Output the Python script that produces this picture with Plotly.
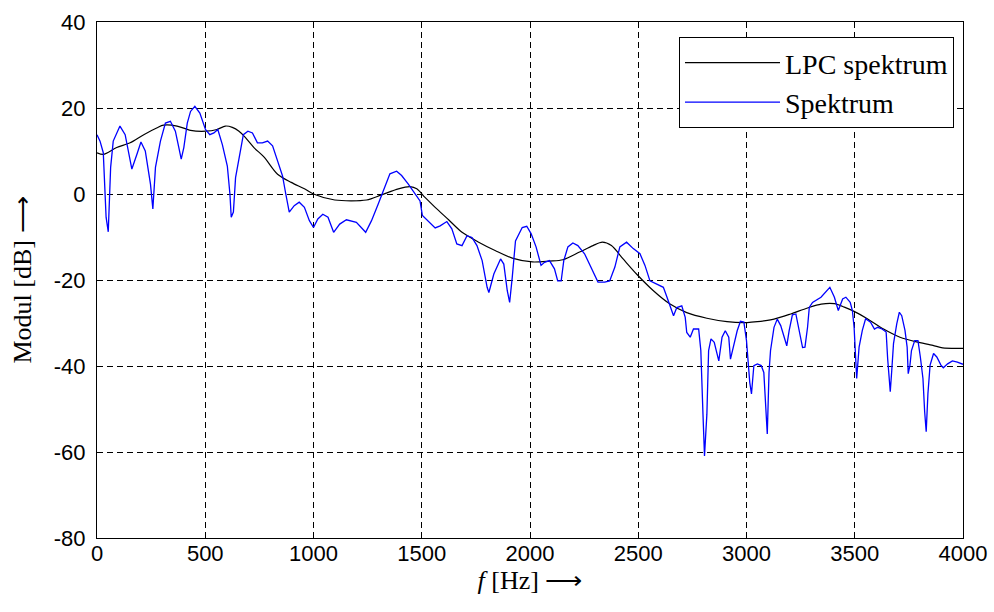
import plotly.graph_objects as go

# Measured spectrum (blue)
spec_f = [0, 14, 29, 42, 52, 63, 75, 106, 130, 161, 184, 203, 223, 247, 258, 270, 293, 316, 339, 362,
          378, 389, 401, 417, 432, 452, 475, 501, 521, 540, 558, 579, 602, 614, 620, 630, 640, 656, 676,
          697, 718, 741, 764, 788, 811, 834, 857, 872, 888, 911, 934, 958, 981, 1000, 1020, 1043, 1067,
          1093, 1121, 1152, 1198, 1241, 1268, 1299, 1330, 1353, 1384, 1407, 1438, 1469, 1492, 1503, 1528,
          1562, 1585, 1616, 1639, 1662, 1686, 1709, 1732, 1755, 1779, 1802, 1810, 1833, 1864, 1879, 1895,
          1906, 1918, 1933, 1964, 1985, 2005, 2028, 2051, 2067, 2090, 2113, 2128, 2144, 2156, 2175, 2198,
          2221, 2252, 2283, 2314, 2345, 2368, 2392, 2415, 2446, 2477, 2508, 2531, 2554, 2585, 2616, 2632,
          2647, 2663, 2678, 2701, 2717, 2724, 2740, 2755, 2779, 2789, 2799, 2806, 2817, 2825, 2836, 2851,
          2872, 2887, 2902, 2918, 2926, 2941, 2957, 2972, 2988, 3000, 3006, 3015, 3023, 3034, 3050, 3068,
          3080, 3088, 3096, 3104, 3111, 3127, 3142, 3158, 3173, 3186, 3197, 3212, 3228, 3243, 3259, 3270,
          3282, 3290, 3305, 3344, 3385, 3406, 3424, 3444, 3459, 3479, 3489, 3497, 3505, 3509, 3520, 3535,
          3550, 3573, 3591, 3606, 3626, 3645, 3652, 3664, 3671, 3679, 3694, 3706, 3717, 3732, 3742, 3747,
          3755, 3762, 3777, 3792, 3803, 3815, 3823, 3830, 3838, 3848, 3864, 3879, 3898, 3909, 3929, 3951,
          3974, 4000]
spec_db = [13.8, 12.3, 9.6, -5.4, -8.8, 6.2, 12.3, 15.8, 13.8, 5.8, 9.2, 12.1, 10.0, 2.3, -3.5, 6.2, 12.3,
           16.5, 16.9, 14.6, 10.8, 8.1, 10.8, 16.5, 19.2, 20.4, 18.8, 15.0, 13.8, 14.2, 15.0, 11.5, 6.5, 0.0,
           -5.4, -4.2, 3.8, 8.5, 13.8, 14.6, 14.2, 11.9, 11.9, 12.3, 11.2, 7.7, 4.2, 0.0, -4.2, -2.7, -1.9,
           -3.1, -6.2, -7.8, -5.8, -4.7, -5.4, -8.9, -7.0, -6.0, -6.6, -8.9, -6.2, -2.3, 1.9, 4.7, 5.3, 4.3,
           2.3, 0.0, -1.6, -5.0, -6.2, -7.9, -7.4, -6.4, -8.1, -11.6, -12.0, -9.7, -10.1, -12.0, -15.5,
           -21.7, -22.9, -18.6, -15.1, -16.3, -22.5, -25.2, -19.4, -10.9, -7.8, -7.5, -9.2, -12.3, -16.6,
           -15.9, -15.5, -17.4, -20.2, -20.2, -15.5, -12.3, -11.4, -12.0, -13.9, -17.4, -20.5, -20.5, -20.2,
           -17.0, -12.3, -11.2, -12.7, -13.9, -16.6, -20.2, -20.9, -21.7, -23.9, -26.3, -28.3, -26.4, -26.0,
           -28.7, -32.2, -33.3, -31.4, -31.4, -36.4, -51.2, -60.9, -51.2, -36.4, -33.7, -34.5, -38.8, -33.3,
           -31.8, -33.3, -38.4, -34.9, -31.8, -29.6, -29.8, -34.1, -38.8, -43.8, -46.5, -39.9, -39.5, -39.9,
           -41.5, -50.4, -55.8, -41.5, -36.4, -31.0, -29.1, -30.6, -33.3, -35.3, -31.8, -28.1, -27.9, -31.8,
           -35.7, -35.6, -31.0, -26.4, -25.2, -24.0, -21.7, -24.0, -27.1, -24.4, -24.0, -25.2, -27.1, -31.0,
           -40.2, -42.9, -35.6, -31.7, -29.0, -29.8, -31.4, -31.0, -31.4, -32.1, -38.3, -46.0, -41.0, -34.8,
           -30.2, -27.5, -28.3, -31.7, -35.6, -41.8, -39.8, -36.4, -34.1, -34.1, -37.9, -42.9, -50.7, -55.3,
           -46.4, -39.8, -37.1, -37.9, -39.8, -40.4, -39.5, -38.8, -39.1, -39.6]

# LPC envelope (black)
lpc_f = [0, 29, 91, 153, 216, 278, 307, 370, 432, 501, 554, 593, 625, 656, 686, 725, 773, 834, 897, 958,
         1000, 1098, 1245, 1314, 1392, 1446, 1477, 1515, 1562, 1624, 1686, 1763, 1841, 1918, 2011, 2090,
         2152, 2229, 2291, 2334, 2376, 2430, 2492, 2570, 2647, 2724, 2817, 2910, 3003, 3050, 3127, 3204,
         3282, 3345, 3406, 3452, 3497, 3558, 3633, 3709, 3785, 3861, 3906, 4000]
lpc_db = [9.6, 9.2, 10.8, 11.9, 13.8, 15.4, 16.0, 15.8, 14.8, 14.6, 15.0, 15.8, 15.5, 14.6, 13.1, 10.8,
          8.5, 4.6, 2.7, 1.2, 0.0, -1.4, -1.4, -0.2, 1.2, 1.7, 1.2, -0.8, -3.1, -6.0, -8.9, -11.2, -13.2,
          -14.9, -15.8, -15.6, -15.3, -13.5, -12.0, -11.2, -12.0, -15.1, -18.6, -22.5, -25.6, -27.6, -28.9,
          -29.7, -29.9, -29.7, -29.1, -27.9, -26.5, -25.6, -25.5, -26.3, -27.3, -29.0, -31.4, -33.3, -34.4,
          -35.2, -35.8, -35.9]

x_ticks = [0, 500, 1000, 1500, 2000, 2500, 3000, 3500, 4000]
y_ticks = [-80, -60, -40, -20, 0, 20, 40]

fig = go.Figure()
fig.add_trace(go.Scatter(x=lpc_f, y=lpc_db, mode="lines", name="LPC spektrum",
                         line=dict(color="black", width=1.2, shape="spline", smoothing=0.8)))
fig.add_trace(go.Scatter(x=spec_f, y=spec_db, mode="lines", name="Spektrum",
                         line=dict(color="#0000FF", width=1.3)))

serif = "Liberation Serif, Times New Roman, serif"
axis_common = dict(
    showline=True, linecolor="black", linewidth=1, mirror="ticks",
    ticks="inside", ticklen=6, tickcolor="black", tickwidth=1,
    showgrid=True, gridcolor="black", gridwidth=1, griddash="6px,4px",
    zeroline=False, automargin=False,
    tickfont=dict(family="Liberation Sans, Arial, sans-serif", size=22, color="black"),
)

fig.update_xaxes(range=[0, 4000], tickvals=x_ticks, ticktext=[str(v) for v in x_ticks],
                 ticklabelstandoff=-4,
                 title=dict(text="<i>f</i> [Hz] ⟶", standoff=4,
                            font=dict(family=serif, size=26, color="black")),
                 **axis_common)
fig.update_yaxes(range=[-80, 40], tickvals=y_ticks, ticktext=[str(v) for v in y_ticks],
                 ticklabelstandoff=6,
                 title=dict(text="Modul [dB] ⟶", standoff=14,
                            font=dict(family=serif, size=26, color="black")),
                 **axis_common)

fig.update_layout(
    width=994, height=612,
    margin=dict(l=97, r=31, t=22, b=74),
    paper_bgcolor="white", plot_bgcolor="white",
    showlegend=True,
    legend=dict(x=0.9896, y=0.971, xanchor="right", yanchor="top",
                bgcolor="white", bordercolor="black", borderwidth=1,
                itemwidth=95,
                font=dict(family=serif, size=28, color="black")),
)

fig.write_html("out.html")
